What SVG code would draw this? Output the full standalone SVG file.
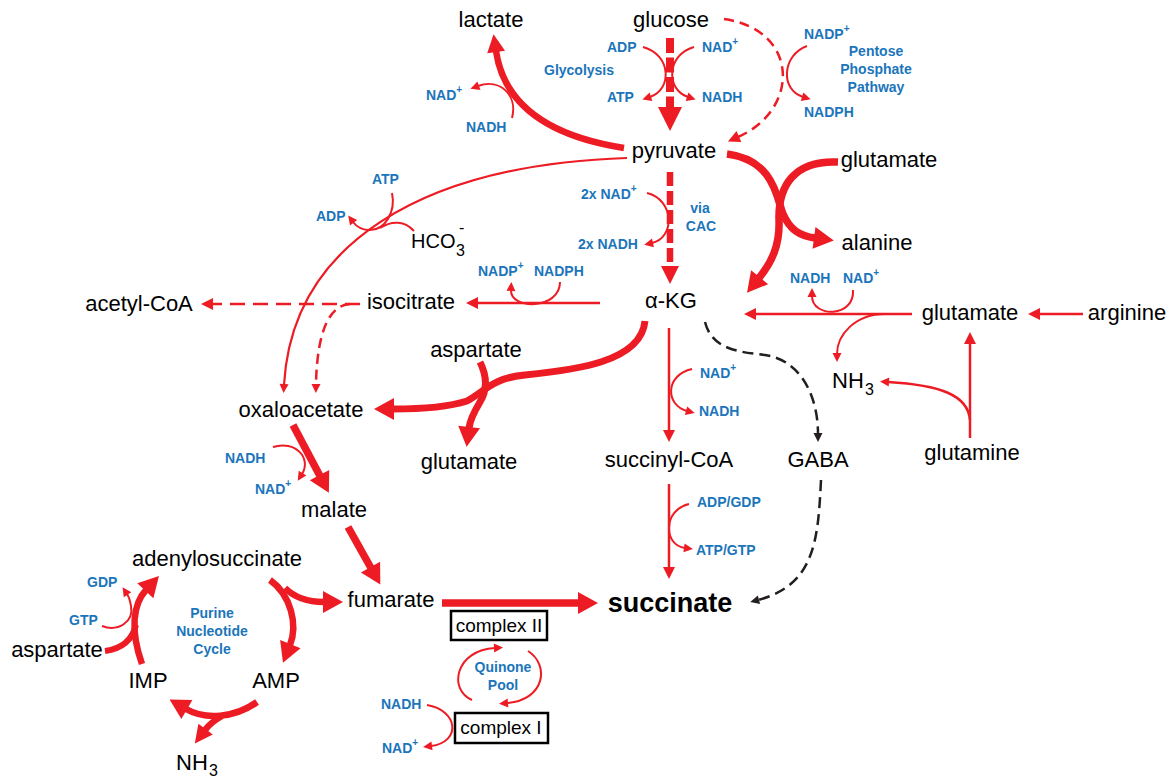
<svg xmlns="http://www.w3.org/2000/svg" width="1173" height="777" viewBox="0 0 1173 777">
<style>
.n{font-family:"Liberation Sans",Arial,sans-serif;font-size:22px;fill:#000;text-anchor:middle}
.c{font-family:"Liberation Sans",Arial,sans-serif;font-weight:bold;font-size:14px;fill:#1B75BB}
.cm{text-anchor:middle}
.t{fill:none;stroke:#ED1C24;stroke-width:7.5}
.m{fill:none;stroke:#ED1C24;stroke-width:2.5}
.s{fill:none;stroke:#ED1C24;stroke-width:2}
.d{stroke-dasharray:10 6}
.k{fill:none;stroke:#231F20;stroke-width:2.5;stroke-dasharray:11 6}
.box{fill:#fff;stroke:#000;stroke-width:2.5}
</style>
<defs>
<marker id="aXL" markerUnits="userSpaceOnUse" markerWidth="30" markerHeight="30" refX="1" refY="0" orient="auto" overflow="visible"><path d="M0,-12 L24,0 L0,12 z" fill="#ED1C24"/></marker>
<marker id="aL" markerUnits="userSpaceOnUse" markerWidth="30" markerHeight="30" refX="1" refY="0" orient="auto" overflow="visible"><path d="M0,-11 L20,0 L0,11 z" fill="#ED1C24"/></marker>
<marker id="aM2" markerUnits="userSpaceOnUse" markerWidth="30" markerHeight="30" refX="1" refY="0" orient="auto" overflow="visible"><path d="M0,-9 L18,0 L0,9 z" fill="#ED1C24"/></marker>
<marker id="aM" markerUnits="userSpaceOnUse" markerWidth="20" markerHeight="20" refX="1" refY="0" orient="auto" overflow="visible"><path d="M0,-6 L12,0 L0,6 z" fill="#ED1C24"/></marker>
<marker id="aS" markerUnits="userSpaceOnUse" markerWidth="20" markerHeight="20" refX="1" refY="0" orient="auto" overflow="visible"><path d="M0,-4.5 L9,0 L0,4.5 z" fill="#ED1C24"/></marker>
<marker id="aK" markerUnits="userSpaceOnUse" markerWidth="20" markerHeight="20" refX="1" refY="0" orient="auto" overflow="visible"><path d="M0,-4.5 L9,0 L0,4.5 z" fill="#231F20"/></marker>
</defs>
<rect width="1173" height="777" fill="#fff"/>

<g id="connectors">
<!-- glycolysis -->
<path class="t" style="stroke-width:8;stroke-dasharray:15 4.5" d="M670 38 L670 108" marker-end="url(#aXL)"/>
<path class="s" d="M643 47 C672 55 672 90 650 97" marker-end="url(#aS)"/>
<path class="s" d="M694 47 C666 55 666 90 688 97" marker-end="url(#aS)"/>
<!-- pentose phosphate -->
<path class="m d" d="M724 19 C800 30 800 110 738 137" marker-end="url(#aM)"/>
<path class="s" d="M807 46 C782 55 780 90 803 97" marker-end="url(#aS)"/>
<!-- lactate -->
<path class="t" style="stroke-width:6.5" d="M624 148 C560 138 505 112 496 51" marker-end="url(#aM2)"/>
<path class="s" d="M512 118 C518 95 500 78 478 86" marker-end="url(#aS)"/>
<!-- pyruvate to aKG via CAC -->
<path class="t" style="stroke-width:6.5;stroke-dasharray:14 5" d="M670 172 L670 267" marker-end="url(#aM2)"/>
<path class="s" d="M647 193 C675 200 675 238 652 243" marker-end="url(#aS)"/>
<!-- alanine / glutamate -->
<path class="t" d="M727 154 C775 160 777 200 783 214 C790 230 800 236 815 238" marker-end="url(#aL)"/>
<path class="t" d="M838 162 C795 160 778 185 779 220 C780 245 772 262 759 278" marker-end="url(#aL)"/>
<!-- pyruvate to oxaloacetate -->
<path class="s" style="stroke-width:2.2" d="M627 158 C420 165 292 245 284 385" marker-end="url(#aS)"/>
<path class="s" d="M392 193 C396 212 385 230 370 230 C361 230 356 226 353 222" marker-end="url(#aS)"/>
<path class="s" d="M414 231 C405 221 392 220 380 228"/>
<!-- aKG to isocitrate -->
<path class="m" d="M600 303 L477 303" marker-end="url(#aM)"/>
<path class="s" d="M560 282 C560 310 510 310 511 290" marker-end="url(#aS)"/>
<!-- isocitrate -->
<path class="m" style="stroke-dasharray:15 8" d="M360 304 L212 304" marker-end="url(#aM)"/>
<path class="m d" d="M350 304 C330 305 317 330 316 385" marker-end="url(#aS)"/>
<!-- aKG to oxaloacetate, aspartate -->
<path class="t" style="stroke-width:7" d="M645 321 C641 362 575 370 525 375 C492 378 484 392 467 401 C445 408 420 409 393 409" marker-end="url(#aL)"/>
<path class="t" style="stroke-width:7" d="M480 362 C488 378 486 392 480 402 C474 412 470 420 469 428" marker-end="url(#aL)"/>
<!-- aKG to succinyl-CoA to succinate -->
<path class="m" d="M669 328 L669 431" marker-end="url(#aM)"/>
<path class="s" d="M692 369 C665 375 665 405 687 411" marker-end="url(#aS)"/>
<path class="m" d="M669 484 L669 568" marker-end="url(#aM)"/>
<path class="s" d="M689 504 C663 510 663 545 685 548" marker-end="url(#aS)"/>
<!-- GABA -->
<path class="k" d="M705 322 C712 350 740 352 765 355 C800 360 818 395 818 434" marker-end="url(#aK)"/>
<path class="k" d="M821 480 C818 540 815 585 758 600" marker-end="url(#aK)"/>
<!-- glutamate to aKG -->
<path class="m" d="M912 314 L755 314" marker-end="url(#aM)"/>
<path class="s" d="M853 290 C855 318 812 318 812 296" marker-end="url(#aS)"/>
<path class="s" d="M885 314 C855 314 837 335 837 354" marker-end="url(#aS)"/>
<path class="m" d="M1083 314 L1039 314" marker-end="url(#aM)"/>
<path class="m" d="M970 438 L970 343" marker-end="url(#aM)"/>
<path class="s" style="stroke-width:2.5" d="M970 420 C968 395 940 385 888 382" marker-end="url(#aS)"/>
<!-- oxaloacetate to malate to fumarate -->
<path class="t" d="M293 425 L320 476" marker-end="url(#aL)"/>
<path class="s" d="M273 447 C295 440 312 458 302 474" marker-end="url(#aS)"/>
<path class="t" d="M348 527 L371 568" marker-end="url(#aL)"/>
<path class="t" d="M442 603 L579 603" marker-end="url(#aL)"/>
<!-- purine nucleotide cycle -->
<path class="t" style="stroke-width:6.5" d="M270 580 C291 595 298 625 290 645" marker-end="url(#aL)"/>
<path class="t" style="stroke-width:6.5" d="M285 588 C295 598 310 602 324 602" marker-end="url(#aL)"/>
<path class="t" style="stroke-width:6.5" d="M142 664 C130 630 133 604 146 590" marker-end="url(#aL)"/>
<path class="t" style="stroke-width:6" d="M105 651 C120 649 132 641 136 625"/>
<path class="s" d="M102 626 C118 632 134 622 131 606 C130 600 129 597 127 594" marker-end="url(#aS)"/>
<path class="t" style="stroke-width:6.5" d="M257 702 C235 718 205 720 186 709" marker-end="url(#aL)"/>
<path class="t" style="stroke-width:6.5" d="M222 716 C213 721 208 726 205 730" marker-end="url(#aM2)"/>
<!-- quinone pool -->
<path class="s" d="M472 700 C448 690 455 650 495 648" marker-end="url(#aS)"/>
<path class="s" d="M528 651 C550 665 545 700 507 703" marker-end="url(#aS)"/>
<path class="s" d="M427 705 C458 710 462 742 431 746" marker-end="url(#aS)"/>
</g>

<g id="node-lactate"><text class="n" x="491" y="27">lactate</text></g>
<g id="node-glucose"><text class="n" x="671" y="27">glucose</text></g>
<g id="node-pyruvate"><text class="n" x="674" y="158">pyruvate</text></g>
<g id="node-glutamate-top"><text class="n" x="889" y="167">glutamate</text></g>
<g id="node-alanine"><text class="n" x="877" y="250">alanine</text></g>
<g id="node-akg"><text class="n" x="671" y="308">α-KG</text></g>
<g id="node-isocitrate"><text class="n" x="411" y="309">isocitrate</text></g>
<g id="node-acetylcoa"><text class="n" x="139" y="311">acetyl-CoA</text></g>
<g id="node-hco3"><text class="n" style="text-anchor:start;font-size:20px" x="411" y="248">HCO<tspan style="font-size:16px" x="456" y="256">3</tspan><tspan style="font-size:16px" x="459" y="233">-</tspan></text></g>
<g id="node-glutamate-right"><text class="n" x="970" y="320">glutamate</text></g>
<g id="node-arginine"><text class="n" x="1127" y="320">arginine</text></g>
<g id="node-nh3-right"><text class="n" style="text-anchor:start" x="832" y="388">NH<tspan style="font-size:16px" x="865" y="395">3</tspan></text></g>
<g id="node-glutamine"><text class="n" x="972" y="460">glutamine</text></g>
<g id="node-gaba"><text class="n" x="818" y="467">GABA</text></g>
<g id="node-succinylcoa"><text class="n" x="669" y="467">succinyl-CoA</text></g>
<g id="node-aspartate-mid"><text class="n" x="476" y="357">aspartate</text></g>
<g id="node-oxaloacetate"><text class="n" x="301" y="417">oxaloacetate</text></g>
<g id="node-glutamate-mid"><text class="n" x="469" y="469">glutamate</text></g>
<g id="node-malate"><text class="n" x="334" y="517">malate</text></g>
<g id="node-fumarate"><text class="n" x="391" y="607">fumarate</text></g>
<g id="node-succinate"><text class="n" style="font-size:27px;font-weight:bold" x="670" y="612">succinate</text></g>
<g id="node-adenylosuccinate"><text class="n" x="217" y="566">adenylosuccinate</text></g>
<g id="node-aspartate-left"><text class="n" x="57" y="657">aspartate</text></g>
<g id="node-imp"><text class="n" x="148" y="688">IMP</text></g>
<g id="node-amp"><text class="n" x="276" y="688">AMP</text></g>
<g id="node-nh3-bottom"><text class="n" style="text-anchor:start" x="176" y="770">NH<tspan style="font-size:16px" x="209" y="776">3</tspan></text></g>
<g id="node-complex2"><rect class="box" x="451" y="611" width="96" height="29"/><text class="n" style="font-size:19px" x="499" y="632">complex II</text></g>
<g id="node-complex1"><rect class="box" x="455" y="713" width="93" height="30"/><text class="n" style="font-size:19px" x="501" y="734">complex I</text></g>

<g id="labels">
<text class="c" x="607" y="52">ADP</text>
<text class="c" x="702" y="52">NAD<tspan dy="-7" style="font-size:10px">+</tspan></text>
<text class="c" x="544" y="75">Glycolysis</text>
<text class="c" x="607" y="102">ATP</text>
<text class="c" x="702" y="102">NADH</text>
<text class="c" x="426" y="100">NAD<tspan dy="-7" style="font-size:10px">+</tspan></text>
<text class="c" x="466" y="132">NADH</text>
<text class="c" x="804" y="39">NADP<tspan dy="-7" style="font-size:10px">+</tspan></text>
<text class="c cm" x="876" y="56">Pentose</text>
<text class="c cm" x="876" y="74">Phosphate</text>
<text class="c cm" x="876" y="92">Pathway</text>
<text class="c" x="804" y="117">NADPH</text>
<text class="c" x="372" y="184">ATP</text>
<text class="c" x="316" y="221">ADP</text>
<text class="c" x="581" y="199">2x NAD<tspan dy="-7" style="font-size:10px">+</tspan></text>
<text class="c" x="578" y="249">2x NADH</text>
<text class="c cm" x="700" y="213">via</text>
<text class="c cm" x="701" y="231">CAC</text>
<text class="c" x="478" y="276">NADP<tspan dy="-7" style="font-size:10px">+</tspan></text>
<text class="c" x="534" y="276">NADPH</text>
<text class="c" x="790" y="283">NADH</text>
<text class="c" x="843" y="283">NAD<tspan dy="-7" style="font-size:10px">+</tspan></text>
<text class="c" x="700" y="378">NAD<tspan dy="-7" style="font-size:10px">+</tspan></text>
<text class="c" x="699" y="416">NADH</text>
<text class="c" x="697" y="507">ADP/GDP</text>
<text class="c" x="696" y="555">ATP/GTP</text>
<text class="c" x="225" y="463">NADH</text>
<text class="c" x="255" y="494">NAD<tspan dy="-7" style="font-size:10px">+</tspan></text>
<text class="c" x="87" y="587">GDP</text>
<text class="c" x="69" y="625">GTP</text>
<text class="c cm" x="212" y="618">Purine</text>
<text class="c cm" x="212" y="636">Nucleotide</text>
<text class="c cm" x="212" y="654">Cycle</text>
<text class="c" x="381" y="709">NADH</text>
<text class="c" x="382" y="753">NAD<tspan dy="-7" style="font-size:10px">+</tspan></text>
<text class="c cm" x="503" y="672">Quinone</text>
<text class="c cm" x="503" y="690">Pool</text>
</g>
</svg>
